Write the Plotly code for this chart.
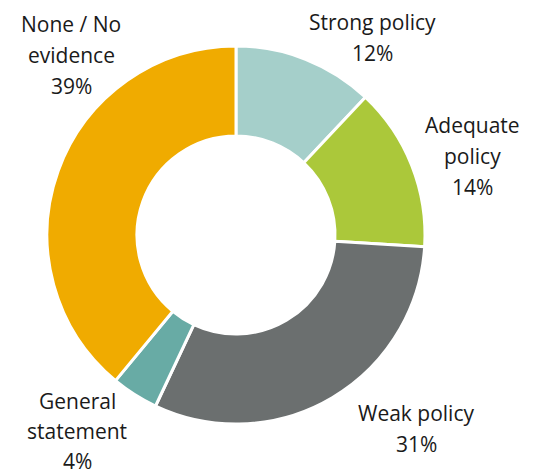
import plotly.graph_objects as go

categories = ["Strong policy", "Adequate policy", "Weak policy", "General statement", "None / No evidence"]
values = [12, 14, 31, 4, 39]
colors = ["#a5cfca", "#abc83a", "#6b6f6f", "#68aba5", "#f0ab00"]

# label text lines per category
label_lines = [
    ["Strong policy", "12%"],
    ["Adequate", "policy", "14%"],
    ["Weak policy", "31%"],
    ["General", "statement", "4%"],
    ["None / No", "evidence", "39%"],
]
# label layout (pixel centre x, first line y)
label_pos = [(372, 22), (472, 125), (416, 413), (77, 401), (71, 24)]
LINE_STEP = 31

W, H = 537, 475
cx, cy, R = 236, 235, 189

fig = go.Figure(go.Pie(
    labels=categories, values=values, sort=False, direction="clockwise",
    rotation=0, hole=0.524,
    marker=dict(colors=colors, line=dict(color="white", width=3)),
    textinfo="none", hoverinfo="label+percent", showlegend=False,
    domain=dict(x=[(cx - R) / W, (cx + R) / W], y=[(H - cy - R) / H, (H - cy + R) / H]),
))

annotations = []
for lines, (x, y0) in zip(label_lines, label_pos):
    step = 30 if x == 77 else LINE_STEP
    for i, line in enumerate(lines):
        annotations.append(dict(
            text=line, x=x / W, y=1 - (y0 + i * step) / H, xref="paper", yref="paper",
            showarrow=False, xanchor="center", yanchor="middle",
            font=dict(family="Open Sans", size=21, color="#1a1a1a"),
        ))

fig.update_layout(
    width=W, height=H, margin=dict(l=0, r=0, t=0, b=0),
    paper_bgcolor="white", plot_bgcolor="white", annotations=annotations,
)
fig.write_html("out.html")
